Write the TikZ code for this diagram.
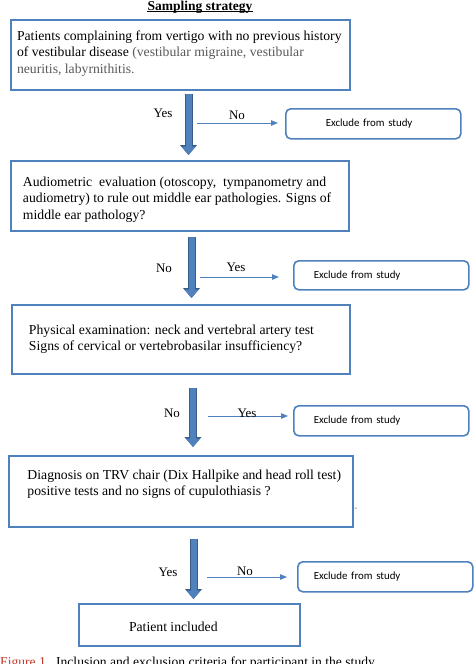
\documentclass[tikz,border=0pt]{standalone}
\usepackage{fontspec}
\setmainfont{Liberation Serif}
\newfontfamily\calibrifont{Carlito}
\usetikzlibrary{arrows.meta}
\definecolor{bx}{HTML}{4F81BD}
\definecolor{bxd}{HTML}{385D8A}
\definecolor{gtxt}{HTML}{595959}
\definecolor{capred}{HTML}{C0392B}
\begin{document}
\begin{tikzpicture}[x=1pt,y=-1pt,
  mainbox/.style={draw=bx, line width=2pt, anchor=north west, inner sep=0pt,
    font=\fontsize{13.7}{16.5}\selectfont},
  exbox/.style={draw=bx, line width=1.6pt, rounded corners=5pt, anchor=north west,
    align=left, font=\calibrifont\fontsize{10.9}{12}\selectfont},
  yn/.style={font=\fontsize{13}{14}\selectfont, inner sep=0pt},
  bigarrow/.style={bx, line width=6pt, -{Triangle[width=13.5pt,length=8.5pt]},
    preaction={draw=bxd, line width=8pt, -{Triangle[width=16.5pt,length=10pt]}}},
  thinarrow/.style={draw=bx, line width=1pt, -{Triangle[width=5.5pt,length=7pt]}}
]
\useasboundingbox (0,0) rectangle (474,664);

% title
\node[inner sep=0pt, anchor=base, font=\bfseries\fontsize{13.5}{15}\selectfont] (title) at (200,10) {Sampling strategy};
\draw[line width=0.7pt] ([yshift=-1.8pt]title.base west) -- ([yshift=-1.8pt]title.base east);

% main boxes
\node[mainbox] (b1) at (10,19) {\parbox[c][70pt][t]{339pt}{\raggedright\leftskip=6pt\relax\vspace*{8.45pt}\strut Patients complaining from vertigo with no previous history\\ of vestibular disease {\color{gtxt}(vestibular migraine, vestibular\\ neuritis, labyrnithitis.}}};
\node[mainbox] (b2) at (10,160) {\parbox[c][70pt][t]{338pt}{\raggedright\leftskip=12pt\relax\vspace*{13.45pt}\strut Audiometric\ \ evaluation (otoscopy,\ \ tympanometry and\\ audiometry) to rule out middle ear pathologies. Signs of\\ middle ear pathology?}};
\node[mainbox] (b3) at (11,304) {\parbox[c][69pt][t]{338pt}{\raggedright\leftskip=17pt\relax\vspace*{17.45pt}\strut Physical examination: neck and vertebral artery test\\ Signs of cervical or vertebrobasilar insufficiency?}};
\node[mainbox] (b4) at (8,455) {\parbox[c][71pt][t]{344pt}{\raggedright\leftskip=18.5pt\relax\vspace*{11.45pt}\strut Diagnosis on TRV chair (Dix Hallpike and head roll test)\\ positive tests and no signs of cupulothiasis ?}};
\node[mainbox] (b5) at (78,603) {\parbox[c][42pt][t]{221pt}{\raggedright\leftskip=50pt\relax\vspace*{15.45pt}\strut Patient included}};
\node[text=gtxt, font=\fontsize{8}{9}\selectfont, inner sep=0pt] (dash) at (356,509) {-};

% exclude boxes
\node[exbox, minimum width=175pt, minimum height=30pt, inner xsep=40pt, text width=95pt] (e1) at (285,108) {Exclude from study};
\node[exbox, minimum width=175pt, minimum height=29pt, inner xsep=20pt, text width=135pt] (e2) at (293,260) {Exclude from study};
\node[exbox, minimum width=175pt, minimum height=30pt, inner xsep=20pt, text width=135pt] (e3) at (293,405) {Exclude from study};
\node[exbox, minimum width=175pt, minimum height=30pt, inner xsep=16pt, text width=143pt] (e4) at (297,561) {Exclude from study};

% big arrows
\coordinate (x1) at (188.5,0);
\coordinate (x2) at (191.5,0);
\coordinate (x3) at (193,0);
\coordinate (x4) at (193.5,0);
\draw[bigarrow, shorten <=3pt, shorten >=5pt] (b1.south -| x1) -- (b2.north -| x1);
\draw[bigarrow, shorten <=5pt, shorten >=6pt] (b2.south -| x2) -- (b3.north -| x2);
\draw[bigarrow, shorten <=13pt, shorten >=8pt] (b3.south -| x3) -- (b4.north -| x3);
\draw[bigarrow, shorten <=11pt, shorten >=4pt] (b4.south -| x4) -- (b5.north -| x4);

% thin arrows
\coordinate (s1) at (197,123);
\coordinate (s2) at (200,277);
\coordinate (s3) at (208,416);
\coordinate (s4) at (207,577);
\draw[thinarrow, shorten >=7pt] (s1) -- (s1 -| e1.west);
\draw[thinarrow, shorten >=14pt] (s2) -- (s2 -| e2.west);
\draw[thinarrow, shorten >=5pt] (s3) -- (s3 -| e3.west);
\draw[thinarrow, shorten >=10pt] (s4) -- (s4 -| e4.west);

% yes / no labels
\node[yn] (y1) at (163,113) {Yes};
\node[yn] (n1) at (237,115) {No};
\node[yn] (n2) at (164,268) {No};
\node[yn] (y2) at (236,267) {Yes};
\node[yn] (n3) at (172,413) {No};
\node[yn] (y3) at (247,413) {Yes};
\node[yn] (y4) at (168,572) {Yes};
\node[yn] (n4) at (245,571) {No};

% caption (cut off at the bottom edge, as in the reference)
\begin{scope}
\clip (0,0) rectangle (474,664);
\node[anchor=base west, inner sep=0pt, font=\fontsize{13.6}{15}\selectfont] (cap) at (0,666) {{\color{capred}Figure 1.}\ \ Inclusion and exclusion criteria for participant in the study};
\end{scope}
\end{tikzpicture}
\end{document}
